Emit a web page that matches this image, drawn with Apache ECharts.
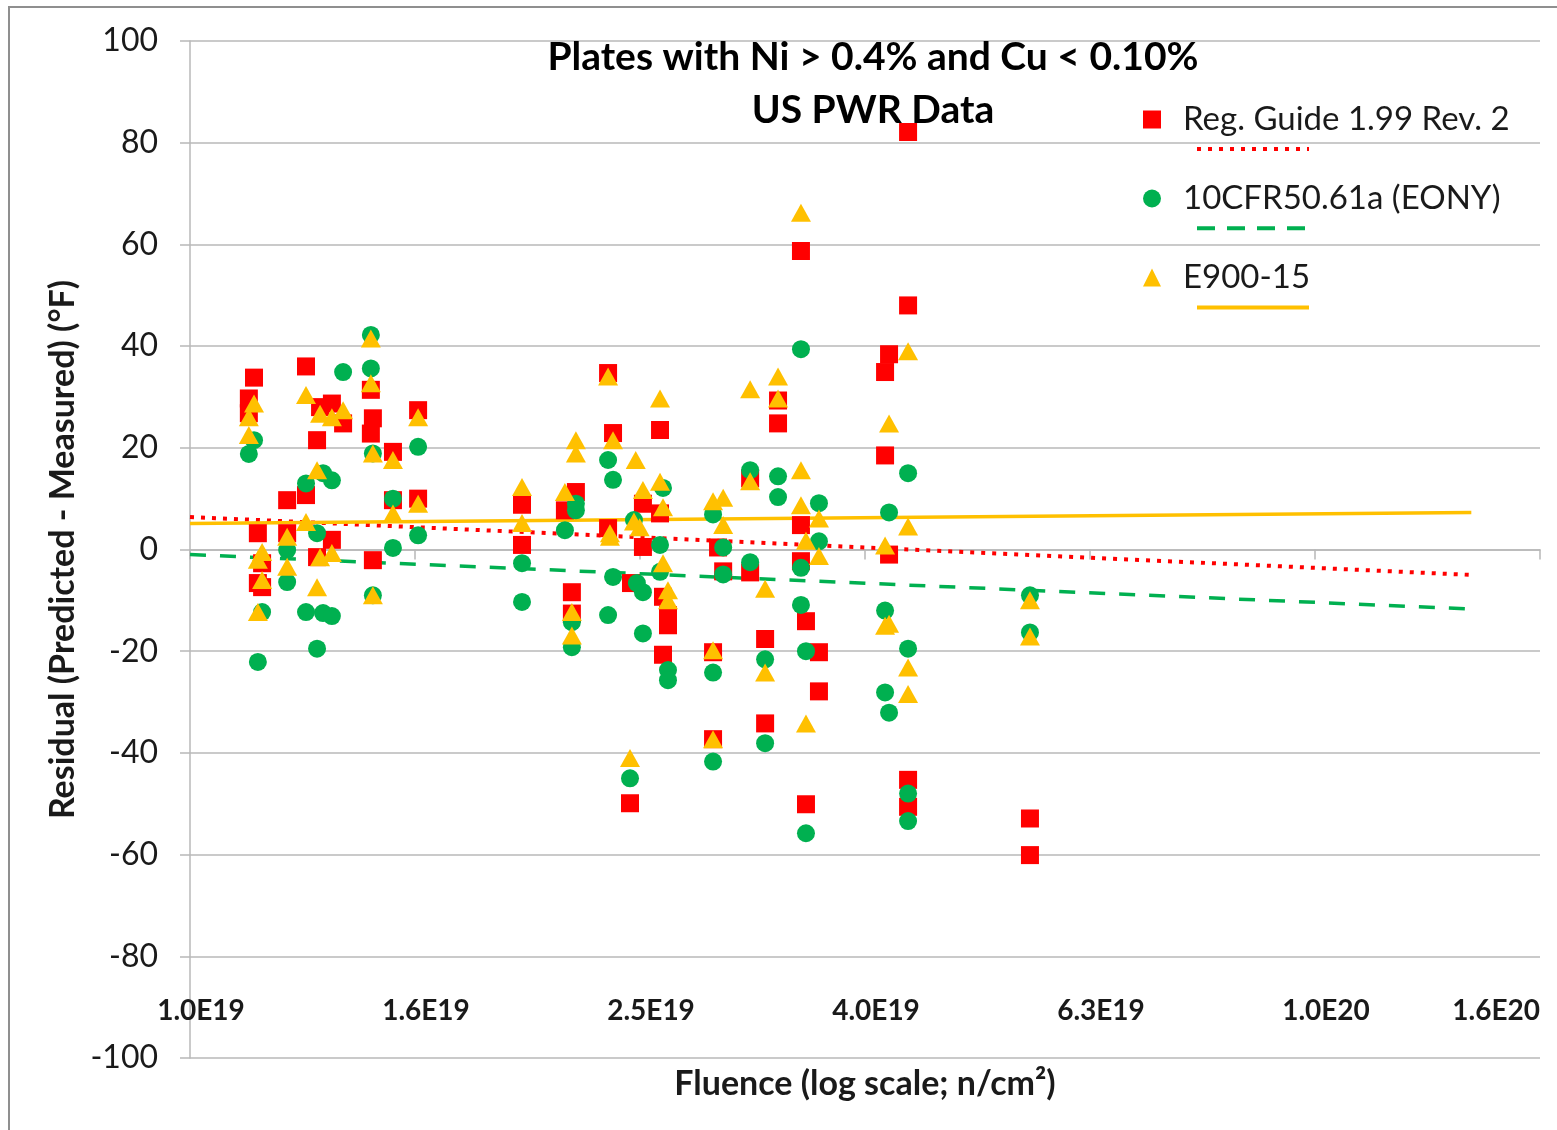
<!DOCTYPE html>
<html>
<head>
<meta charset="utf-8">
<script src="https://cdn.jsdelivr.net/npm/echarts@6/dist/echarts.min.js"></script>
<style>
  html, body { margin: 0; padding: 0; background: #ffffff; }
  #chart { width: 1557px; height: 1130px; }
</style>
</head>
<body>
<div id="chart"></div>
<script>
// Residuals (predicted - measured shift, °F) versus fluence (n/cm²)
// Reg. Guide 1.99 Rev. 2
const rgFluence = [
  1.14e19, 1.128e19, 1.128e19, 1.149e19, 1.159e19, 1.149e19, 1.159e19,
  1.22e19, 1.22e19,
  1.268e19, 1.268e19,
  1.297e19, 1.305e19, 1.337e19, 1.368e19, 1.337e19, 1.297e19,
  1.448e19, 1.454e19, 1.448e19, 1.454e19,
  1.515e19, 1.515e19,
  1.595e19, 1.595e19,
  1.973e19, 1.973e19,
  2.203e19, 2.154e19, 2.185e19, 2.185e19,
  2.353e19, 2.377e19, 2.353e19,
  2.461e19, 2.466e19,
  2.527e19, 2.527e19,
  2.617e19, 2.617e19, 2.633e19, 2.66e19, 2.66e19, 2.633e19,
  2.947e19, 2.978e19, 2.917e19, 2.917e19,
  3.147e19, 3.147e19,
  3.245e19, 3.245e19,
  3.332e19, 3.332e19,
  3.492e19, 3.492e19, 3.492e19, 3.528e19, 3.528e19,
  3.623e19, 3.623e19,
  4.182e19, 4.148e19, 4.148e19, 4.182e19,
  4.348e19, 4.348e19, 4.348e19, 4.348e19,
  5.58e19, 5.58e19
];
const rgResidual = [
  33.8, 29.7, 26.8, 3.2, -2.7, -6.6, -7.4,
  9.7, 3.2,
  36.0, 10.7,
  21.5, 28.0, 28.7, 24.8, 1.9, -1.5,
  31.4, 25.8, 22.8, -2.1,
  19.2, 9.7,
  27.4, 10.0,
  8.8, 0.9,
  11.3, 7.7, -8.4, -12.6,
  34.7, 22.9, 4.2,
  -49.9, -6.6,
  9.0, 0.5,
  23.5, 7.1, -9.3, -12.9, -14.9, -20.7,
  0.4, -4.3, -20.2, -37.3,
  14.0, -4.5,
  -17.6, -34.2,
  29.3, 24.8,
  58.7, 4.8, -2.3, -14.1, -50.1,
  -20.2, -27.9,
  38.4, 34.9, 18.5, -1.0,
  82.1, 48.0, -45.3, -50.6,
  -52.9, -60.1
];

// 10CFR50.61a (EONY)
const eonyFluence = [
  1.14e19, 1.128e19, 1.159e19, 1.149e19,
  1.22e19, 1.22e19,
  1.268e19, 1.268e19,
  1.313e19, 1.337e19, 1.297e19, 1.297e19, 1.313e19, 1.337e19, 1.368e19,
  1.448e19, 1.448e19, 1.454e19, 1.454e19,
  1.515e19, 1.515e19,
  1.595e19, 1.595e19,
  1.973e19, 1.973e19,
  2.203e19, 2.203e19, 2.154e19, 2.185e19, 2.185e19,
  2.353e19, 2.377e19, 2.377e19, 2.353e19,
  2.481e19, 2.461e19, 2.496e19, 2.527e19, 2.527e19,
  2.633e19, 2.617e19, 2.617e19, 2.66e19, 2.66e19,
  2.917e19, 2.978e19, 2.978e19, 2.917e19, 2.917e19,
  3.147e19, 3.147e19,
  3.245e19, 3.245e19,
  3.332e19, 3.332e19,
  3.492e19, 3.492e19, 3.492e19, 3.528e19, 3.528e19,
  3.623e19, 3.623e19,
  4.182e19, 4.148e19, 4.148e19, 4.182e19,
  4.348e19, 4.348e19, 4.348e19, 4.348e19,
  5.58e19, 5.58e19
];
const eonyResidual = [
  21.5, 18.8, -12.3, -22.1,
  -0.1, -6.4,
  13.0, -12.3,
  15.0, 13.6, 3.2, -19.5, -12.5, -13.1, 34.9,
  42.2, 35.6, 18.9, -9.0,
  10.0, 0.3,
  20.2, 2.8,
  -2.7, -10.3,
  9.0, 7.7, 3.8, -14.3, -19.2,
  17.6, 13.7, -5.4, -12.9,
  5.8, -45.0, -6.6, -8.4, -16.5,
  12.1, 0.9, -4.4, -23.7, -25.7,
  6.9, 0.4, -4.9, -24.2, -41.7,
  15.6, -2.5,
  -21.6, -38.1,
  14.4, 10.3,
  39.4, -3.6, -10.9, -20.0, -55.8,
  9.1, 1.6,
  7.3, -12.0, -28.1, -32.1,
  15.0, -19.5, -48.0, -53.4,
  -9.0, -16.3
];

// E900-15
const e900Fluence = [
  1.14e19, 1.128e19, 1.128e19, 1.159e19, 1.149e19, 1.159e19, 1.149e19,
  1.22e19, 1.22e19,
  1.268e19, 1.268e19,
  1.297e19, 1.297e19, 1.305e19, 1.337e19, 1.368e19, 1.337e19, 1.305e19,
  1.448e19, 1.448e19, 1.454e19, 1.454e19,
  1.515e19, 1.515e19,
  1.595e19, 1.595e19,
  1.973e19, 1.973e19,
  2.154e19, 2.203e19, 2.203e19, 2.185e19, 2.185e19,
  2.353e19, 2.377e19, 2.362e19, 2.362e19,
  2.49e19, 2.461e19, 2.481e19,
  2.527e19, 2.51e19,
  2.617e19, 2.617e19, 2.633e19, 2.633e19, 2.66e19, 2.66e19,
  2.917e19, 2.978e19, 2.978e19, 2.917e19, 2.917e19,
  3.147e19, 3.147e19,
  3.245e19, 3.245e19,
  3.332e19, 3.332e19,
  3.492e19, 3.492e19, 3.492e19, 3.528e19, 3.528e19,
  3.623e19, 3.623e19,
  4.182e19, 4.148e19, 4.148e19, 4.182e19,
  4.348e19, 4.348e19, 4.348e19, 4.348e19,
  5.58e19, 5.58e19
];
const e900Residual = [
  28.7, 26.0, 22.5, -0.5, -2.0, -6.0, -12.3,
  2.5, -3.4,
  30.4, 5.4,
  15.6, -7.4, 26.7, 26.0, 27.4, -0.7, -1.5,
  41.5, 32.7, 18.9, -9.0,
  17.6, 7.1,
  26.0, 9.0,
  12.3, 5.2,
  11.3, 21.5, 18.9, -12.3, -16.9,
  34.0, 21.5, 3.2, 2.5,
  17.6, -41.0, 5.5,
  11.7, 4.4,
  29.7, 13.3, 8.3, -2.7, -8.0, -10.0,
  9.5, 10.2, 4.8, -19.8, -37.3,
  31.5, 13.4,
  -7.7, -24.2,
  34.0, 29.7,
  66.2, 15.6, 8.7, 1.7, -34.2,
  6.1, -1.3,
  24.8, 0.8, -15.0, -14.6,
  39.0, 4.5, -23.2, -28.4,
  -10.0, -17.1
];

// Logarithmic trend lines (straight on the log-fluence axis): end points
const trendFluence = [1.0e19, 1.377e20];
const rgTrend = [6.4, -5.0];
const eonyTrend = [-1.0, -11.7];
const e900Trend = [5.1, 7.3];

const seriesNames = ['Reg. Guide 1.99 Rev. 2', '10CFR50.61a (EONY)', 'E900-15'];
const trendNames = ['Reg. Guide 1.99 Rev. 2 trend', '10CFR50.61a (EONY) trend', 'E900-15 trend'];
const titleLines = ['Plates with Ni > 0.4% and Cu < 0.10%', 'US PWR Data'];
const xAxisTitle = 'Fluence (log scale; n/cm\u00B2)';
const yAxisTitle = 'Residual (Predicted - Measured) (\u00B0F)';

const RED = '#FF0000', GREEN = '#00B050', ORANGE = '#FFC000';
const GRID_GRAY = '#b8b8b8';
const FONT = 'Lato, "Open Sans", "DejaVu Sans", sans-serif';

// Axis steps of 10^0.2 give the 1.0, 1.6, 2.5, 4.0, 6.3 sequence
const LOG_BASE = Math.pow(10, 0.2);
const X_MIN = 1.0e19;
const X_MAX = Math.pow(10, 20.2);

function zip(xs, ys) { return xs.map((x, i) => [x, ys[i]]); }
function sciLabel(v) {
  const parts = Number(v).toExponential(1).split('e');
  return parts[0] + 'E' + String(parseInt(parts[1], 10));
}

const chart = echarts.init(document.getElementById('chart'), null, { renderer: 'canvas' });

const logAxisBase = { type: 'log', logBase: LOG_BASE, min: X_MIN, max: X_MAX, splitLine: { show: false } };
const hiddenIcon = { color: 'rgba(0,0,0,0)', opacity: 0, borderWidth: 0 };

chart.setOption({
  animation: false,
  backgroundColor: '#ffffff',
  textStyle: { fontFamily: FONT },
  grid: { left: 190, right: 17, top: 41, bottom: 72, containLabel: false },
  graphic: [
    { type: 'rect', silent: true, z: -10,
      shape: { x: 9, y: 7, width: 1600, height: 1200 },
      style: { fill: 'none', stroke: '#8f8f8f', lineWidth: 2 } },
    { type: 'text', silent: true, x: 873, y: 31, z: 20,
      style: { text: titleLines.join('\n'), fill: '#000000',
        font: 'bold 39px ' + FONT, align: 'center', verticalAlign: 'top', lineHeight: 53 } }
  ],
  xAxis: [
    Object.assign({}, logAxisBase, {
      position: 'bottom',
      axisLine: { show: false, onZero: false },
      axisTick: { show: false },
      axisLabel: { show: true, inside: true, margin: 33, formatter: sciLabel,
        color: '#1a1a1a', fontSize: 28, fontWeight: 'bold', fontFamily: FONT,
        padding: [0, 0, 0, 22], alignMaxLabel: 'right' },
      name: xAxisTitle, nameLocation: 'middle', nameGap: 9,
      nameTextStyle: { color: '#1a1a1a', fontSize: 34, fontWeight: 'bold', fontFamily: FONT, verticalAlign: 'top' }
    }),
    Object.assign({}, logAxisBase, {
      position: 'bottom',
      axisLine: { show: true, onZero: true, lineStyle: { color: GRID_GRAY, width: 1.5 } },
      axisTick: { show: true, length: 10, lineStyle: { color: GRID_GRAY, width: 1.5 } },
      axisLabel: { show: false }
    })
  ],
  yAxis: {
    type: 'value', min: -100, max: 100, interval: 20,
    axisLine: { show: true, lineStyle: { color: GRID_GRAY, width: 1.5 } },
    axisTick: { show: true, length: 10, lineStyle: { color: GRID_GRAY, width: 1.5 } },
    splitLine: { show: true, lineStyle: { color: GRID_GRAY, width: 1.5 } },
    axisLabel: { margin: 32, color: '#1a1a1a', fontSize: 32, fontFamily: FONT },
    name: yAxisTitle, nameLocation: 'middle', nameGap: 106, nameRotate: 90,
    nameTextStyle: { color: '#1a1a1a', fontSize: 34, fontWeight: 'bold', fontFamily: FONT }
  },
  legend: [
    {
      data: seriesNames, orient: 'vertical', left: 1138, top: 98,
      itemWidth: 18, itemHeight: 18, itemGap: 46, selectedMode: false,
      textStyle: { color: '#1a1a1a', fontSize: 33, fontFamily: FONT, padding: [0, 0, 0, 17] }
    },
    {
      data: [
        { name: trendNames[0], itemStyle: hiddenIcon,
          lineStyle: { color: RED, width: 4, type: [4, 7], cap: 'butt' } },
        { name: trendNames[1], itemStyle: hiddenIcon,
          lineStyle: { color: GREEN, width: 4, type: [18, 12] } },
        { name: trendNames[2], itemStyle: hiddenIcon,
          lineStyle: { color: ORANGE, width: 4, type: 'solid' } }
      ],
      orient: 'vertical', left: 1190, top: 140,
      itemWidth: 112, itemHeight: 8, itemGap: 72, selectedMode: false,
      formatter: function () { return ''; }
    }
  ],
  series: [
    { name: trendNames[0], type: 'line', xAxisIndex: 0, data: zip(trendFluence, rgTrend),
      symbol: 'none', silent: true, z: 1,
      lineStyle: { color: RED, width: 4, type: [4, 7], cap: 'butt' }, itemStyle: { color: RED } },
    { name: trendNames[1], type: 'line', xAxisIndex: 0, data: zip(trendFluence, eonyTrend),
      symbol: 'none', silent: true, z: 1,
      lineStyle: { color: GREEN, width: 3.5, type: [16, 14] }, itemStyle: { color: GREEN } },
    { name: trendNames[2], type: 'line', xAxisIndex: 0, data: zip(trendFluence, e900Trend),
      symbol: 'none', silent: true, z: 1,
      lineStyle: { color: ORANGE, width: 3.5, type: 'solid' }, itemStyle: { color: ORANGE } },
    { name: seriesNames[0], type: 'scatter', xAxisIndex: 0, data: zip(rgFluence, rgResidual),
      symbol: 'rect', symbolSize: 18, z: 3, itemStyle: { color: RED, opacity: 1 } },
    { name: seriesNames[1], type: 'scatter', xAxisIndex: 0, data: zip(eonyFluence, eonyResidual),
      symbol: 'circle', symbolSize: 18, z: 4, itemStyle: { color: GREEN, opacity: 1 } },
    { name: seriesNames[2], type: 'scatter', xAxisIndex: 0, data: zip(e900Fluence, e900Residual),
      symbol: 'triangle', symbolSize: [20, 18], z: 5, itemStyle: { color: ORANGE, opacity: 1 } }
  ]
});
</script>
</body>
</html>
